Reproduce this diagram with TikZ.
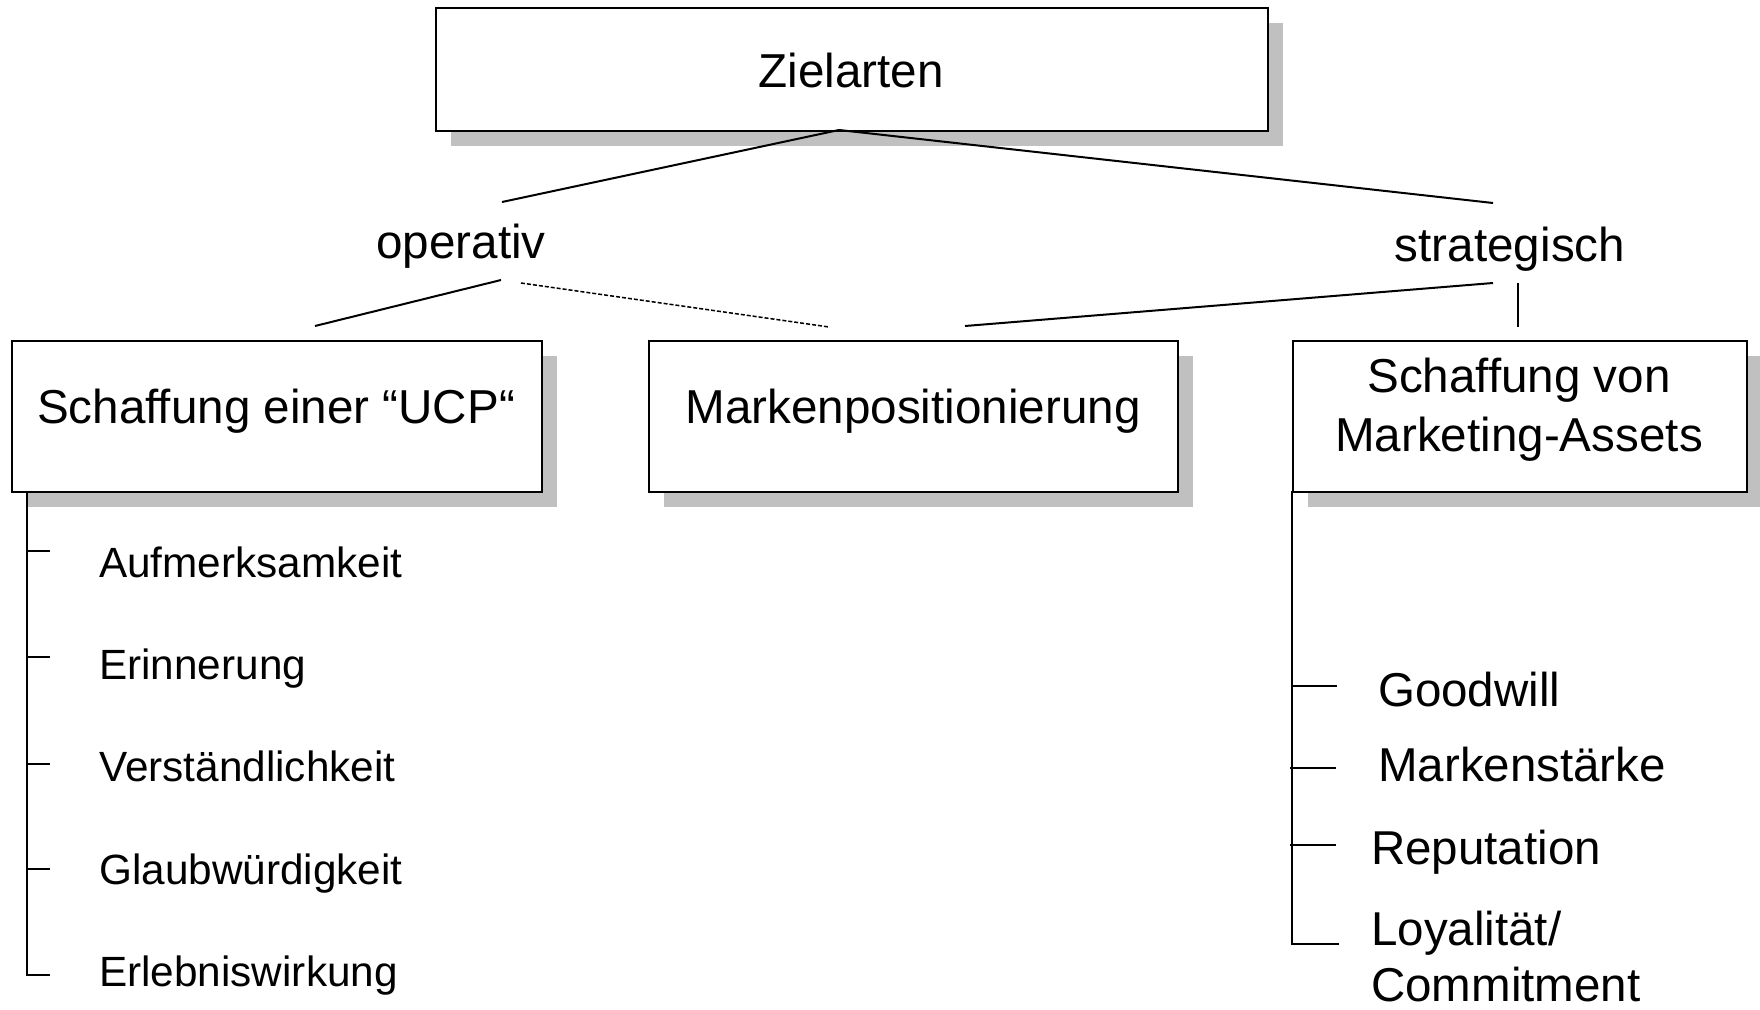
\documentclass[tikz,border=0pt]{standalone}
\usepackage{fontspec}
\setmainfont{Liberation Sans}
\definecolor{shadowgray}{RGB}{192,192,192}
\begin{document}
\begin{tikzpicture}[x=1pt,y=-1pt,
  box/.style={draw=black, line width=2pt, fill=white, inner sep=0pt, anchor=north west},
  shadowfill/.style={fill=shadowgray},
  conn/.style={line width=2pt, line cap=butt},
  tree/.style={line width=1.6pt},
  big/.style={font=\fontsize{47.6}{59}\selectfont, inner sep=0pt},
  small/.style={font=\fontsize{42.3}{50}\selectfont, inner sep=0pt},
  right/.style={font=\fontsize{47.5}{56}\selectfont, inner sep=0pt}]
\useasboundingbox (0,0) rectangle (1760,1009);

% shadows
\fill[shadowfill] (451,23) rectangle (1283,146);
\fill[shadowfill] (27,356) rectangle (557,507);
\fill[shadowfill] (664,356) rectangle (1193,507);
\fill[shadowfill] (1308,356) rectangle (1762,507);

% boxes
\node[box, minimum width=832, minimum height=123] (ziel) at (435,7) {};
\node[box, minimum width=530, minimum height=151] (ucp) at (11,340) {};
\node[box, minimum width=529, minimum height=151] (mpos) at (648,340) {};
\node[box, minimum width=454, minimum height=151] (assets) at (1292,340) {};

% box texts
\node[big, anchor=base] (zieltxt) at (851,87) {Zielarten};
\node[big, anchor=base] (ucptxt) at (276,423) {Schaffung einer “UCP“};
\node[big, anchor=base] (mpostxt) at (913,423) {Markenpositionierung};
\node[big, anchor=north, align=center] (assetstxt) at (1519,358) {Schaffung von\\Marketing-Assets};

% level labels
\node[big, anchor=base] (op) at (461,258) {operativ};
\node[big, anchor=base] (st) at (1510,261) {strategisch};

% connector coordinates
\coordinate (apex) at (839,130);
\coordinate (opT) at (502,202);
\coordinate (stT) at (1493,203);
\coordinate (opB1) at (501,280);
\coordinate (ucpT) at (315,326);
\coordinate (opB2) at (521,283);
\coordinate (mposT1) at (829,327);
\coordinate (stB1) at (1493,283);
\coordinate (mposT2) at (965,326);
\coordinate (stB2) at (1518,283);
\coordinate (assetsT) at (1518,327);

\draw[conn] (apex) -- (opT);
\draw[conn] (apex) -- (stT);
\draw[conn] (opB1) -- (ucpT);
\draw[line width=1.5pt, dash pattern=on 4pt off 2pt] (opB2) -- (mposT1);
\draw[conn] (stB1) -- (mposT2);
\draw[line width=1.5pt] (stB2) -- (assetsT);

% left tree
\coordinate (lt0) at (27,491);
\coordinate (lt1) at (27,551);
\coordinate (lt2) at (27,657);
\coordinate (lt3) at (27,764);
\coordinate (lt4) at (27,869);
\coordinate (lt5) at (27,975);
\draw[tree] (lt0) -- (lt5) -- ++(23,0);
\foreach \p in {lt1,lt2,lt3,lt4} \draw[tree] (\p) -- ++(23,0);

\node[small, anchor=base west] (i1) at (99,577) {Aufmerksamkeit};
\node[small, anchor=base west] (i2) at (99,679) {Erinnerung};
\node[small, anchor=base west] (i3) at (99,781) {Verständlichkeit};
\node[small, anchor=base west] (i4) at (99,884) {Glaubwürdigkeit};
\node[small, anchor=base west] (i5) at (99,986) {Erlebniswirkung};

% right tree
\coordinate (rt0) at (1292,491);
\coordinate (rt1) at (1292,686);
\coordinate (rt2) at (1290,768);
\coordinate (rt3) at (1290,845);
\coordinate (rt4) at (1292,944);
\draw[tree] (rt0) -- (rt4) -- (1339,944);
\draw[tree] (rt1) -- (1337,686);
\draw[tree] (rt2) -- (1336,768);
\draw[tree] (rt3) -- (1336,845);

\node[right, anchor=base west] (r1) at (1378,706) {Goodwill};
\node[right, anchor=base west] (r2) at (1378,781) {Markenstärke};
\node[right, anchor=base west] (r3) at (1371,864) {Reputation};
\node[right, anchor=north west, align=left] (r4) at (1371,911) {Loyalität/\\Commitment};
\end{tikzpicture}
\end{document}
